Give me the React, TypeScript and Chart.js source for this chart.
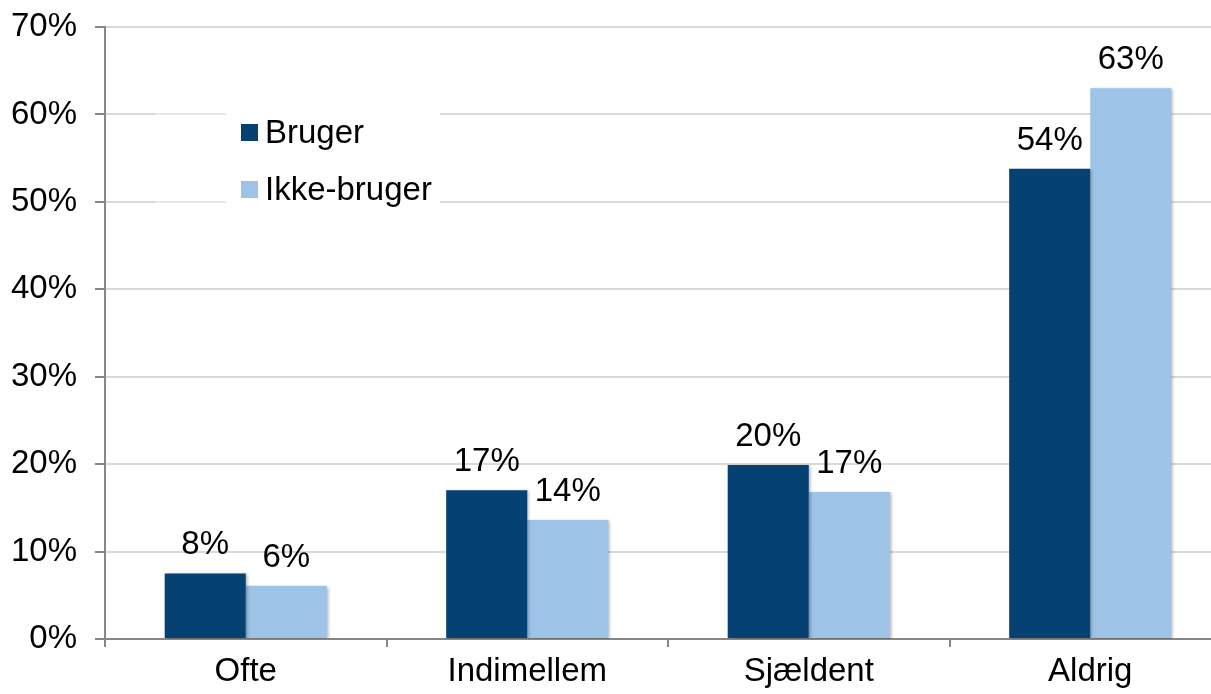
import React, { useEffect, useRef } from "react";
import { Chart, registerables } from "chart.js";

Chart.register(...registerables);

const categories = ["Ofte", "Indimellem", "Sjældent", "Aldrig"];
const brugerValues = [7.5, 17.0, 19.9, 53.8];
const ikkeBrugerValues = [6.1, 13.6, 16.8, 63.0];
const seriesNames = ["Bruger", "Ikke-bruger"];
const seriesColors = ["#054173", "#9DC3E6"];
const yTicks = [0, 10, 20, 30, 40, 50, 60, 70];

const FONT = "'Liberation Sans', Arial, sans-serif";
const FS = 33;

const shadowPlugin = {
  id: "barShadow",
  beforeDatasetDraw(chart: any) {
    const ctx = chart.ctx;
    ctx.save();
    ctx.shadowColor = "rgba(0,0,0,0.28)";
    ctx.shadowBlur = 3;
    ctx.shadowOffsetX = 2;
    ctx.shadowOffsetY = 1;
  },
  afterDatasetDraw(chart: any) {
    chart.ctx.restore();
  },
};

const legendPlugin = {
  id: "insideLegend",
  beforeDatasetsDraw(chart: any) {
    const ctx = chart.ctx;
    const a = chart.chartArea;
    ctx.save();
    ctx.fillStyle = "rgba(255,255,255,0.4)";
    ctx.fillRect(a.left + 50, a.top + 72, 71, 116);
    ctx.fillStyle = "#ffffff";
    ctx.fillRect(a.left + 121, a.top + 72, 214, 116);
    ctx.font = `${FS}px ${FONT}`;
    ctx.textBaseline = "alphabetic";
    ctx.textAlign = "left";
    const rows = [a.top + 116, a.top + 173];
    seriesNames.forEach((name, i) => {
      ctx.fillStyle = seriesColors[i];
      ctx.fillRect(a.left + 136, rows[i] - 19, 17, 17);
      ctx.fillStyle = "#000000";
      ctx.fillText(name, a.left + 160, rows[i]);
    });
    ctx.restore();
  },
};

const labelPlugin = {
  id: "valueLabels",
  afterDatasetsDraw(chart: any) {
    const ctx = chart.ctx;
    ctx.save();
    ctx.font = `${FS}px ${FONT}`;
    ctx.fillStyle = "#000000";
    ctx.textAlign = "center";
    ctx.textBaseline = "alphabetic";
    chart.data.datasets.forEach((ds: any, di: number) => {
      const meta = chart.getDatasetMeta(di);
      meta.data.forEach((bar: any, i: number) => {
        const v = ds.data[i];
        ctx.fillText(`${Math.round(v)}%`, bar.x, bar.y - 19);
      });
    });
    ctx.restore();
  },
};

export default function App() {
  const ref = useRef<HTMLCanvasElement>(null);
  useEffect(() => {
    document.body.style.margin = "0";
    const chart = new Chart(ref.current as HTMLCanvasElement, {
      type: "bar",
      data: {
        labels: categories,
        datasets: [
          {
            label: seriesNames[0],
            data: brugerValues,
            backgroundColor: seriesColors[0],
            categoryPercentage: 0.576,
            barPercentage: 1,
          },
          {
            label: seriesNames[1],
            data: ikkeBrugerValues,
            backgroundColor: seriesColors[1],
            categoryPercentage: 0.576,
            barPercentage: 1,
          },
        ],
      },
      options: {
        responsive: false,
        animation: false,
        layout: { padding: { top: 27, right: 0, bottom: 0, left: 0 } },
        plugins: {
          legend: { display: false },
          tooltip: { enabled: false },
        },
        scales: {
          x: {
            offset: true,
            grid: {
              display: true,
              drawOnChartArea: false,
              offset: true,
              tickLength: 8,
              tickColor: "#868686",
              lineWidth: 2,
            },
            border: { color: "#868686", width: 2 },
            ticks: {
              color: "#000000",
              font: { family: FONT, size: FS },
              padding: 5,
            },
            afterFit: (s: any) => {
              s.height = 55;
              s.paddingLeft = 0;
              s.paddingRight = 0;
            },
          },
          y: {
            min: 0,
            max: 70,
            afterBuildTicks: (s: any) => {
              s.ticks = yTicks.map((v) => ({ value: v }));
            },
            grid: {
              color: "#D9D9D9",
              lineWidth: 2,
              tickLength: 10,
              tickColor: "#868686",
            },
            border: { color: "#868686", width: 2 },
            ticks: {
              color: "#000000",
              font: { family: FONT, size: FS },
              padding: 18,
              callback: (v: any) => `${v}%`,
            },
            afterFit: (s: any) => {
              s.width = 105;
              s.paddingTop = 0;
              s.paddingBottom = 0;
            },
          },
        },
      },
      plugins: [legendPlugin, shadowPlugin, labelPlugin],
    });
    return () => chart.destroy();
  }, []);
  return (
    <div
      style={{
        position: "absolute",
        left: 0,
        top: 0,
        width: 1211,
        height: 694,
        overflow: "hidden",
        background: "#ffffff",
      }}
    >
      <canvas ref={ref} width={1231} height={694} style={{ display: "block" }} />
    </div>
  );
}
